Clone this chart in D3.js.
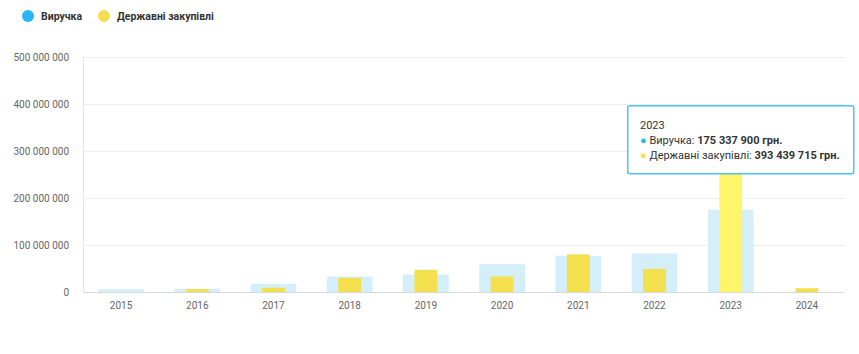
<!DOCTYPE html>
<html>
<head>
<meta charset="utf-8">
<script src="https://cdn.jsdelivr.net/npm/d3@7"></script>
<style>
  body { margin: 0; background: #fff; font-family: Roboto, "Noto Sans", sans-serif; }
</style>
</head>
<body>
<svg width="859" height="354"></svg>
<script>
// chart data
var years = ["2015", "2016", "2017", "2018", "2019", "2020", "2021", "2022", "2023", "2024"];
var revenue = [6000000, 7000000, 17500000, 33000000, 37000000, 59000000, 77000000, 82000000, 175337900, 0];
var procurement = [0, 6000000, 9000000, 30000000, 47000000, 33000000, 80000000, 49000000, 393439715, 8000000];
var yTicks = [0, 100000000, 200000000, 300000000, 400000000, 500000000];
var seriesNames = ["Виручка", "Державні закупівлі"];
var hoverIndex = 8;

var svg = d3.select("svg"),
    margin = {top: 57, right: 14, bottom: 62, left: 83},
    width = +svg.attr("width") - margin.left - margin.right,
    height = +svg.attr("height") - margin.top - margin.bottom;

var fmt = function (v) { return d3.format(",")(v).replace(/,/g, " "); };

var x = d3.scaleBand().domain(years).range([0, width]);
var y = d3.scaleLinear().domain([0, 500000000]).range([height, 0]);

var g = svg.append("g").attr("transform", "translate(" + margin.left + "," + margin.top + ")");

// gridlines
g.append("g").selectAll("line").data(yTicks.slice(1)).enter().append("line")
    .attr("x1", 0).attr("x2", width)
    .attr("y1", function (d) { return y(d) + 0.5; }).attr("y2", function (d) { return y(d) + 0.5; })
    .style("stroke", "#eeeeee");

// y labels
g.append("g").selectAll("text").data(yTicks).enter().append("text")
    .attr("x", -14).attr("y", function (d) { return y(d); }).attr("dy", "0.35em")
    .attr("text-anchor", "end")
    .style("font-size", "10px").style("fill", "#666")
    .text(fmt);

// revenue bars (inactive, faded)
var wideW = x.bandwidth() * 0.6;
g.append("g").selectAll("rect").data(revenue).enter().append("rect")
    .attr("x", function (d, i) { return x(years[i]) + (x.bandwidth() - wideW) / 2; })
    .attr("width", wideW)
    .attr("y", function (d) { return y(d); })
    .attr("height", function (d) { return height - y(d); })
    .attr("fill", "#d4eefa");

// procurement bars
var narrowW = x.bandwidth() * 0.3;
g.append("g").selectAll("rect").data(procurement).enter().append("rect")
    .attr("x", function (d, i) { return x(years[i]) + (x.bandwidth() - narrowW) / 2; })
    .attr("width", narrowW)
    .attr("y", function (d) { return y(d); })
    .attr("height", function (d) { return height - y(d); })
    .attr("fill", function (d, i) { return i === hoverIndex ? "#fff56b" : "#f4df4f"; });

// axis lines
g.append("line").attr("x1", 0.5).attr("x2", 0.5).attr("y1", 0).attr("y2", height).style("stroke", "#e6e6e6");
g.append("line").attr("x1", 0).attr("x2", width).attr("y1", height + 0.5).attr("y2", height + 0.5).style("stroke", "#d8d8d8");

// x labels
g.append("g").selectAll("text").data(years).enter().append("text")
    .attr("x", function (d) { return x(d) + x.bandwidth() / 2; })
    .attr("y", height + 17)
    .attr("text-anchor", "middle")
    .style("font-size", "10px").style("fill", "#666")
    .text(function (d) { return d; });

// legend
var legend = svg.append("g");
var legendX = [28, 104];
var legendCol = ["#29b6f6", "#f4df4f"];
seriesNames.forEach(function (name, i) {
    legend.append("circle").attr("cx", legendX[i]).attr("cy", 16).attr("r", 6).attr("fill", legendCol[i]);
    legend.append("text").attr("x", legendX[i] + 13).attr("y", 20)
        .style("font-size", "10.5px").style("font-weight", "bold").style("fill", "#333")
        .text(name);
});

// tooltip
var tip = svg.append("g").attr("transform", "translate(627,105)");
tip.append("rect").attr("x", 0.75).attr("y", 0.75).attr("width", 226).attr("height", 68).attr("rx", 2)
    .style("fill", "#ffffff").style("stroke", "#4dc2f7").style("stroke-width", 1.5);
tip.append("text").attr("x", 13).attr("y", 24).style("font-size", "11px").style("fill", "#333").text(years[hoverIndex]);
var tipVals = [revenue[hoverIndex], procurement[hoverIndex]];
seriesNames.forEach(function (name, i) {
    var t = tip.append("text").attr("x", 13).attr("y", 39 + i * 15).style("font-size", "11px").style("fill", "#333");
    t.append("tspan").style("fill", legendCol[i]).text("● ");
    t.append("tspan").text(name + ": ");
    t.append("tspan").style("font-weight", "bold").text(fmt(tipVals[i]) + " грн.");
});
</script>
</body>
</html>
